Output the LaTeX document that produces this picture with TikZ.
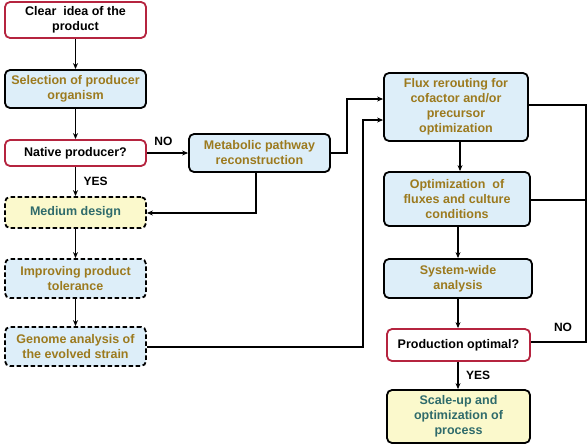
\documentclass[tikz,border=0pt]{standalone}
\usepackage{fontspec}
\setmainfont{Liberation Sans}
\usetikzlibrary{arrows.meta}
\definecolor{redb}{HTML}{B5243F}
\definecolor{bluef}{HTML}{DDEEF9}
\definecolor{yelf}{HTML}{FBF9CC}
\definecolor{goldt}{HTML}{9C7A1E}
\definecolor{tealt}{HTML}{2F6B6B}
\tikzset{
  box/.style={rectangle, rounded corners=5pt, line width=1.8pt, align=center, inner sep=1pt,
    font=\fontsize{12.5}{15}\selectfont\bfseries},
  redbox/.style={box, draw=redb, fill=white, text=black},
  bluebox/.style={box, draw=black, fill=bluef, text=goldt},
  yelbox/.style={box, draw=black, fill=yelf, text=tealt},
  dbox/.style={dash pattern=on 4.5pt off 2.5pt},
  arr/.style={-{Stealth[length=6pt,width=5pt]}, line width=1.4pt},
  ln/.style={line width=1.4pt},
  lab/.style={font=\fontsize{12}{14}\selectfont\bfseries, text=black}
}
\begin{document}
\begin{tikzpicture}[x=1pt,y=-1pt]
\useasboundingbox (0,0) rectangle (588,447);
\node[redbox, minimum width=141pt, minimum height=36pt] (clear) at (75.5,20) {Clear~ idea of the\\product};
\node[bluebox, minimum width=141pt, minimum height=38pt] (sel) at (75.5,89) {Selection of producer\\organism};
\node[redbox, minimum width=141pt, minimum height=26pt] (nat) at (75.5,153) {Native producer?};
\node[yelbox, dbox, minimum width=141pt, minimum height=31pt] (med) at (75.5,212.5) {Medium design};
\node[bluebox, dbox, minimum width=141pt, minimum height=39pt] (imp) at (75.5,278.5) {Improving product\\tolerance};
\node[bluebox, dbox, minimum width=141pt, minimum height=39pt] (gen) at (75.5,346.5) {Genome analysis of\\the evolved strain};
\node[bluebox, minimum width=141pt, minimum height=38pt] (met) at (259.5,153) {Metabolic pathway\\reconstruction};
\node[bluebox, minimum width=144pt, minimum height=68pt] (flux) at (456,107) {Flux rerouting for\\cofactor and/or\\precursor\\optimization};
\node[bluebox, minimum width=146pt, minimum height=54pt] (opt) at (457,199) {Optimization~ of\\fluxes and culture\\conditions};
\node[bluebox, minimum width=148pt, minimum height=39pt] (sys) at (458,278.5) {System-wide\\analysis};
\node[redbox, minimum width=143pt, minimum height=32pt] (prod) at (458.5,345) {Production optimal?};
\node[yelbox, minimum width=143pt, minimum height=53pt] (scale) at (458.5,416.5) {Scale-up and\\optimization of\\process};

\draw[arr] (clear) -- (sel);
\draw[arr] (sel) -- (nat);
\draw[arr] (nat) -- node[lab, right=4pt] {YES} (med);
\draw[arr] (nat) -- node[lab, above=3pt, pos=0.4] {NO} (met);
\draw[arr] (met.south -| 256,0) |- (med.east |- 0,213);
\draw[arr] (med) -- (imp);
\draw[arr] (imp) -- (gen);
\draw[arr] (gen.east |- 0,347) -| (363,120) -- (flux.west |- 0,120);
\draw[arr] (met.east |- 0,153) -| (347,99) -- (flux.west |- 0,99);
\draw[arr] (flux.south -| 460,0) -- (opt.north -| 460,0);
\draw[arr] (opt.south -| 458,0) -- (sys.north -| 458,0);
\draw[arr] (sys.south -| 458,0) -- (prod.north -| 458,0);
\draw[arr] (prod.south -| 458,0) -- node[lab, right=4pt] {YES} (scale.north -| 458,0);
\coordinate (r1) at (586,105);
\coordinate (r2) at (586,200);
\coordinate (r3) at (586,342);
\draw[ln] (flux.east |- r1) -- (r1) -- (r3) -- (prod.east |- r3);
\draw[ln] (opt.east |- r2) -- (r2);
\node[lab] (no2) at (563,327) {NO};
\end{tikzpicture}
\end{document}
